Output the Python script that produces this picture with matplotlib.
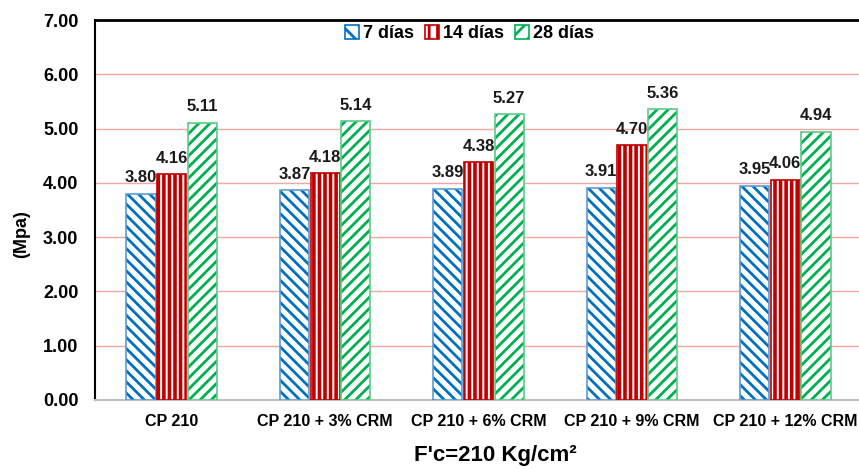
import numpy as np
import matplotlib
matplotlib.use("Agg")
import matplotlib.pyplot as plt
from matplotlib.patches import Rectangle
from matplotlib import font_manager

# data
categorias = ["CP 210", "CP 210 + 3% CRM", "CP 210 + 6% CRM",
              "CP 210 + 9% CRM", "CP 210 + 12% CRM"]
series = ["7 días", "14 días", "28 días"]
dias_7 = [3.80, 3.87, 3.89, 3.91, 3.95]
dias_14 = [4.16, 4.18, 4.38, 4.70, 4.06]
dias_28 = [5.11, 5.14, 5.27, 5.36, 4.94]
yticks = [0, 1, 2, 3, 4, 5, 6, 7]

plt.rcParams["font.family"] = ["Liberation Sans", "DejaVu Sans"]
plt.rcParams["font.weight"] = "bold"
plt.rcParams["hatch.linewidth"] = 2.0

# narrow face for the category labels if it is there
names = {f.name for f in font_manager.fontManager.ttflist}
if "Liberation Sans Narrow" in names:
    cat_font, cat_size = ["Liberation Sans Narrow", "Liberation Sans"], 13
else:
    cat_font, cat_size = ["Liberation Sans", "DejaVu Sans"], 11.5

fig = plt.figure(figsize=(8.59, 4.70), dpi=100)
ax = fig.add_axes([95 / 859, 1 - 400 / 470, 1 - 95 / 859, 380 / 470])

x = np.arange(len(categorias))
w = 0.19
offs = [-0.2, 0.0, 0.2]
hatches = ["\\\\\\", "|||", "///"]
hatch_cols = ["#0070C0", "#C00000", "#00B050"]
edge_cols = ["#5B9BD5", "#C00000", "#5CCB85"]
lws = [2.0, 2.6, 2.0]

handles = []
for vals, name, o, h, hc, ec, lw in zip(
        [dias_7, dias_14, dias_28], series, offs, hatches, hatch_cols,
        edge_cols, lws):
    with plt.rc_context({"hatch.linewidth": lw}):
        ax.bar(x + o, vals, w, facecolor="white", edgecolor=hc, hatch=h,
               linewidth=0, zorder=3)
    ax.bar(x + o, vals, w, fill=False, edgecolor=ec, linewidth=1.2,
           zorder=4)
    with plt.rc_context({"hatch.linewidth": 1.5}):
        handles.append(Rectangle((0, 0), 1, 1, facecolor="white",
                                 edgecolor=hc, hatch=h[:2], linewidth=1.2,
                                 label=name))
    for xi, v in zip(x + o, vals):
        ax.annotate(f"{v:.2f}", (xi, v), xytext=(0, 6),
                    textcoords="offset points", ha="center", va="bottom",
                    fontsize=12, fontweight="bold", color="#1a1a1a")

ax.set_xlim(-0.5, 4.48)
ax.set_ylim(0, 7)
ax.set_yticks(yticks)
ax.set_yticklabels([f"{t:.2f}" for t in yticks], fontsize=13,
                   fontweight="bold")
ax.set_xticks(x)
ax.set_xticklabels(categorias, fontsize=cat_size, fontweight="bold",
                   family=cat_font)
ax.tick_params(axis="both", length=0)
ax.tick_params(axis="y", pad=12)
ax.tick_params(axis="x", pad=10)

ax.grid(axis="y", color="#F2A6A6", linewidth=1.0, zorder=0)
ax.set_axisbelow(True)

ax.spines["right"].set_visible(False)
ax.spines["top"].set_color("black")
ax.spines["top"].set_linewidth(2.0)
ax.spines["left"].set_color("black")
ax.spines["left"].set_linewidth(1.5)
ax.spines["bottom"].set_color("#BFBFBF")
ax.spines["bottom"].set_linewidth(1.5)

ax.legend(handles=handles, loc="center", bbox_to_anchor=(0.49, 0.965),
          ncol=3, frameon=False, handlelength=0.8,
          handleheight=0.8, handletextpad=0.2, columnspacing=0.6,
          prop={"weight": "bold", "size": 13})

fig.text(495 / 859, 1 - 455 / 470, "F'c=210 Kg/cm²", ha="center",
         va="center", fontsize=16, fontweight="bold")
fig.text(22 / 859, 1 - 234 / 470, "(Mpa)", ha="center", va="center",
         rotation=90, fontsize=13, fontweight="bold")

fig.savefig("out.png", dpi=100)
